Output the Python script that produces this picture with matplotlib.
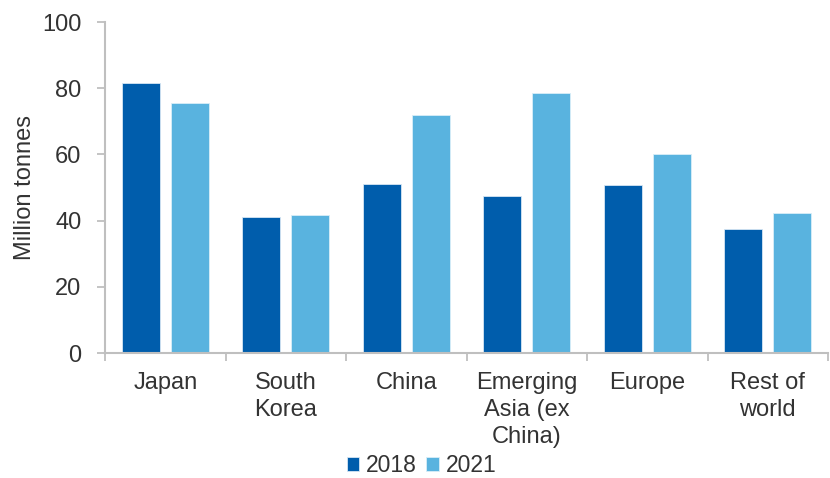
import matplotlib
matplotlib.use("Agg")
import matplotlib.pyplot as plt
import numpy as np

categories = ["Japan", "South\nKorea", "China", "Emerging\nAsia (ex\nChina)", "Europe", "Rest of\nworld"]
v2018 = [81.5, 41.2, 51.0, 47.5, 50.7, 37.5]
v2021 = [75.4, 41.8, 72.0, 78.4, 60.2, 42.4]
yticks = [0, 20, 40, 60, 80, 100]

plt.rcParams['font.family'] = ['Liberation Sans', 'DejaVu Sans']
c18 = "#005DAC"
c21 = "#59B3DF"
gray = "#BFBFBF"
tc = "#333333"

fig = plt.figure(figsize=(8.3, 4.78), dpi=100)
ax = fig.add_axes([105/830, 1-353/478, (828-105)/830, (353-22)/478])
x = np.arange(len(categories))
w = 0.315
off = 0.2025
ax.bar(x - off, v2018, w, color=c18, edgecolor="#D6E6F4", linewidth=0.6, label="2018", zorder=2)
ax.bar(x + off, v2021, w, color=c21, edgecolor="#D9EEF8", linewidth=0.6, label="2021", zorder=2)

ax.set_xlim(-0.5, len(categories) - 0.5)
ax.set_ylim(0, 100)
ax.set_yticks(yticks)
ax.set_yticklabels([str(t) for t in yticks], fontsize=17, color=tc)
ax.set_xticks(np.arange(-0.5, len(categories), 1.0))
ax.set_xticklabels([])
ax.set_xticks(x, minor=True)
ax.set_xticklabels(categories, minor=True, fontsize=17, color=tc, linespacing=1.27, va="top")
ax.tick_params(axis="x", which="minor", length=0, pad=14)
ax.tick_params(axis="x", which="major", length=6, color=gray, width=1.3)
ax.tick_params(axis="y", length=6, color=gray, width=1.3, pad=11)
for s in ["top", "right"]:
    ax.spines[s].set_visible(False)
for s in ["left", "bottom"]:
    ax.spines[s].set_color(gray)
    ax.spines[s].set_linewidth(1.5)
ax.set_ylabel("Million tonnes", fontsize=17, color=tc)
ax.yaxis.set_label_coords(-0.095, 0.5)

leg = fig.legend(loc="center", bbox_to_anchor=(0.508, 1-466/478), ncol=2, frameon=False,
                 fontsize=16.5, handlelength=0.55, handleheight=0.55, handletextpad=0.3,
                 columnspacing=0.4, labelcolor=tc)
fig.savefig("out.png", dpi=100)
